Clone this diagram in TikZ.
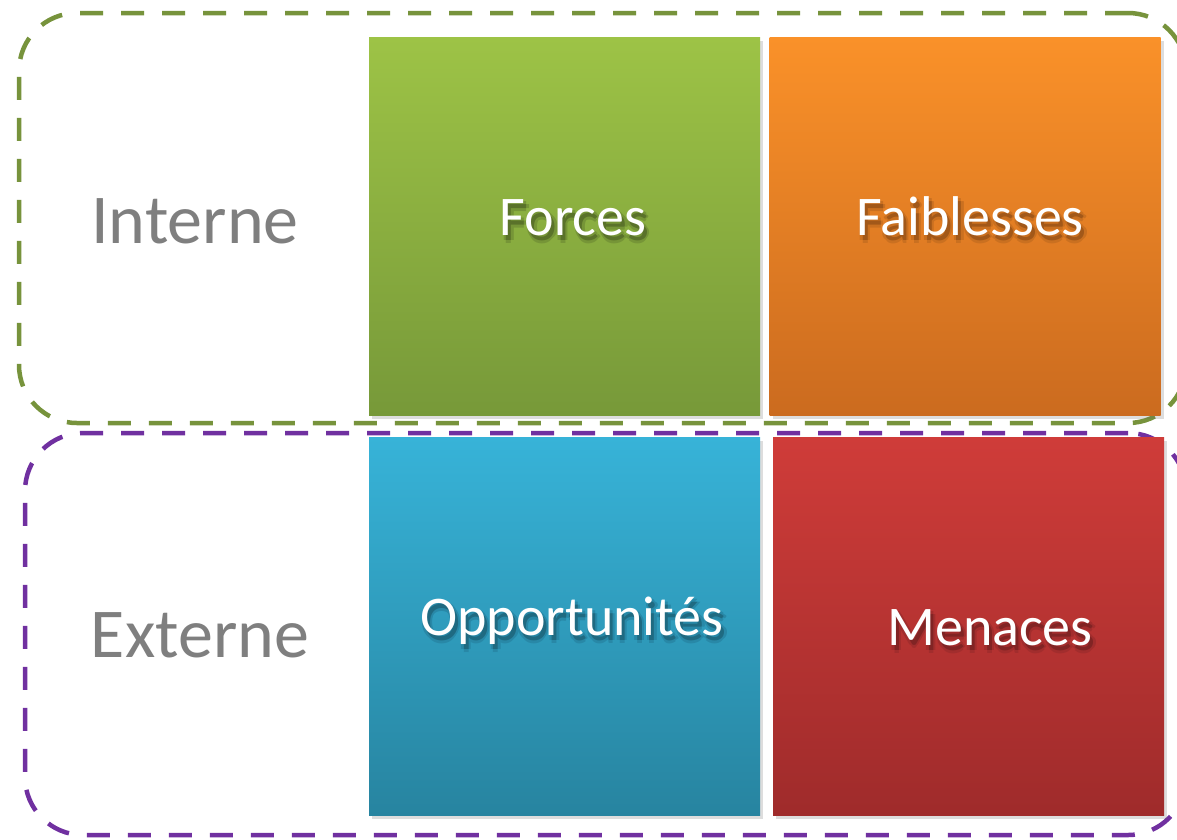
\documentclass[tikz,border=0pt]{standalone}
\usepackage{fontspec}
\setmainfont{Carlito}
\usetikzlibrary{shadows}
\definecolor{frgreen}{HTML}{77933C}
\definecolor{frpurple}{HTML}{7030A0}
\definecolor{labgray}{HTML}{7F7F7F}
\definecolor{gtop}{HTML}{9DC346}
\definecolor{gbot}{HTML}{779939}
\definecolor{otop}{HTML}{FA9129}
\definecolor{obot}{HTML}{CB6B1F}
\definecolor{btop}{HTML}{37B3D8}
\definecolor{bbot}{HTML}{2784A0}
\definecolor{rtop}{HTML}{CF3C39}
\definecolor{rbot}{HTML}{9F2B2B}
\definecolor{gmid}{HTML}{8EB342}
\definecolor{omid}{HTML}{EB8325}
\definecolor{bmid}{HTML}{30A2C6}
\definecolor{rmid}{HTML}{BE3535}
% text with a soft shadow: #1 background, #2 shadow colour, #3 text
\newcommand\shtxt[3]{%
 \rlap{\kern0.5pt\raisebox{-5pt}{\textcolor{#2!25!#1}{#3}}}%
 \rlap{\kern5.5pt\raisebox{-5pt}{\textcolor{#2!25!#1}{#3}}}%
 \rlap{\kern3pt\raisebox{-2pt}{\textcolor{#2!25!#1}{#3}}}%
 \rlap{\kern3pt\raisebox{-8pt}{\textcolor{#2!25!#1}{#3}}}%
 \rlap{\kern3pt\raisebox{-5pt}{\textcolor{#2!55!#1}{#3}}}%
 #3}
\tikzset{
  frame/.style={draw, line width=4.5pt, dash pattern=on 23pt off 18pt,
    rounded corners=58pt, inner sep=0pt, outer sep=0pt, fill=none},
  quad/.style={rectangle, inner sep=0pt, outer sep=0pt,
    minimum width=391pt, minimum height=378pt,
    drop shadow={shadow xshift=3pt, shadow yshift=-3pt, opacity=0.22, fill=black!60}},
  sidelabel/.style={anchor=base, text=labgray, font=\fontsize{70}{80}\selectfont, inner sep=0pt},
  quadlabel/.style={anchor=base, text=white, font=\fontsize{56}{64}\selectfont, inner sep=0pt}
}
\begin{document}
\begin{tikzpicture}[x=1pt, y=-1pt]
\useasboundingbox (0,0) rectangle (1177,839);
\clip (0,0) rectangle (1177,839);
\fill[white] (0,0) rectangle (1177,839);
% frames
\node[frame, draw=frgreen, minimum width=1167pt, minimum height=410pt] (interne) at (602.5,218) {};
\node[frame, draw=frpurple, minimum width=1161pt, minimum height=402pt] (externe) at (605.5,634) {};
% quadrants
\node[quad, top color=gtop, bottom color=gbot] (forces) at (564.5,226.5) {};
\node[quad, top color=otop, bottom color=obot] (faibl) at (965,226.5) {};
\node[quad, top color=btop, bottom color=bbot] (opport) at (564.5,626.5) {};
\node[quad, top color=rtop, bottom color=rbot] (menaces) at (968.5,626.5) {};
% side labels
\node[sidelabel] (linterne) at (195,243) {Interne};
\node[sidelabel] (lexterne) at (200,657) {Externe};
% quadrant labels
\node[quadlabel] (lforces) at (573,235) {\shtxt{gmid}{black!60!gbot}{Forces}};
\node[quadlabel] (lfaibl) at (970,235) {\shtxt{omid}{black!50!obot}{Faiblesses}};
\node[quadlabel] (lopport) at (572,635) {\shtxt{bmid}{black!55!bbot}{Opportunités}};
\node[quadlabel] (lmenaces) at (990,645) {\shtxt{rmid}{black!50!rbot}{Menaces}};
\end{tikzpicture}
\end{document}
